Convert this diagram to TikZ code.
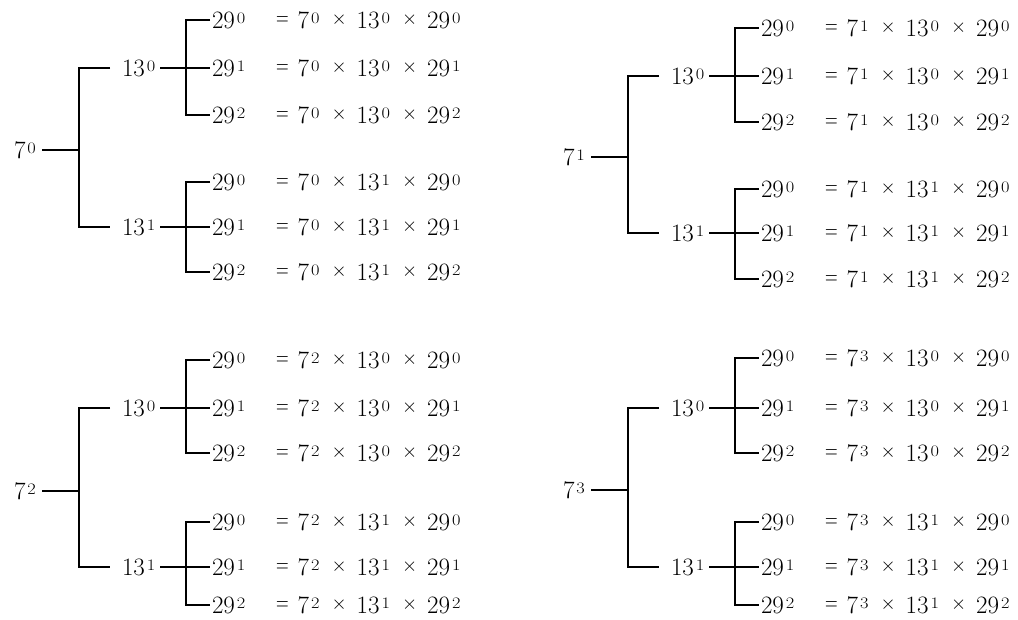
\documentclass[tikz,border=0pt]{standalone}
\usepackage{graphicx}

% a power with a small raised exponent
\newcommand\pw[2]{#1\kern2pt\raisebox{5pt}{\scalebox{1.15}[1]{\fontsize{16}{16}\selectfont #2}}}
% narrow relation and product signs
\newcommand\eqsign{\raisebox{2.5pt}{\scalebox{0.7}[1]{=}}}
\newcommand\tmsign{\raisebox{3.1pt}{\scalebox{0.78}{$\times$}}}
% right-hand side of a leaf
\newcommand\rhs[3]{\eqsign\hspace{9pt}\pw{7}{#1}\hspace{12pt}\tmsign\hspace{10pt}\pw{13}{#2}\hspace{12pt}\tmsign\hspace{10pt}\pw{29}{#3}}

\tikzset{
  lbl/.style={anchor=west, inner sep=0pt, outer sep=0pt, text height=16pt, text depth=0pt,
              font=\fontsize{25}{30}\selectfont},
  branch/.style={line width=2pt, black},
}

% #1 x offset, #2 exponent of 7, #3 root y,
% #4-#6 leaves under 13^0 (#5 = its own y), #7-#9 leaves under 13^1 (#8 = its own y)
\newcommand\prtree[9]{%
  \begin{scope}[xshift=#1pt]
    \node[lbl] (r#2) at (14,#3) {\pw{7}{#2}};
    \node[lbl] (a#2) at (122,#5) {\pw{13}{0}};
    \node[lbl] (b#2) at (122,#8) {\pw{13}{1}};
    \coordinate (jr#2) at (79,#3);
    \coordinate (ja#2) at (186,#5);
    \coordinate (jb#2) at (186,#8);
    % leaves
    \node[lbl] (a#2x0) at (212,#4) {\pw{29}{0}};
    \node[lbl] (a#2x1) at (212,#5) {\pw{29}{1}};
    \node[lbl] (a#2x2) at (212,#6) {\pw{29}{2}};
    \node[lbl] (b#2x0) at (212,#7) {\pw{29}{0}};
    \node[lbl] (b#2x1) at (212,#8) {\pw{29}{1}};
    \node[lbl] (b#2x2) at (212,#9) {\pw{29}{2}};
    % products
    \node[lbl] (pa#2x0) at (276,#4) {\rhs{#2}{0}{0}};
    \node[lbl] (pa#2x1) at (276,#5) {\rhs{#2}{0}{1}};
    \node[lbl] (pa#2x2) at (276,#6) {\rhs{#2}{0}{2}};
    \node[lbl] (pb#2x0) at (276,#7) {\rhs{#2}{1}{0}};
    \node[lbl] (pb#2x1) at (276,#8) {\rhs{#2}{1}{1}};
    \node[lbl] (pb#2x2) at (276,#9) {\rhs{#2}{1}{2}};
    % branches
    \draw[branch] ([xshift=6.5pt]r#2.east) -- (jr#2);
    \draw[branch] ([xshift=-12pt]a#2.west) -| (jr#2) |- ([xshift=-12pt]b#2.west);
    \draw[branch] ([xshift=5pt]a#2.east) -- ([xshift=-2pt]a#2x1.west);
    \draw[branch] ([xshift=-2pt]a#2x0.west) -| (ja#2) |- ([xshift=-2pt]a#2x2.west);
    \draw[branch] ([xshift=5pt]b#2.east) -- ([xshift=-2pt]b#2x1.west);
    \draw[branch] ([xshift=-2pt]b#2x0.west) -| (jb#2) |- ([xshift=-2pt]b#2x2.west);
  \end{scope}}

\begin{document}
\begin{tikzpicture}[x=1pt, y=-1pt]
  \useasboundingbox (0,0) rectangle (1018,619);
  \prtree{0}{0}{150}{20}{68}{115}{182}{227}{272}
  \prtree{549}{1}{157}{28}{76}{122}{189}{233}{279}
  \prtree{0}{2}{491}{360}{408}{453}{522}{567}{605}
  \prtree{549}{3}{490}{358}{408}{453}{522}{567}{605}
\end{tikzpicture}
\end{document}
